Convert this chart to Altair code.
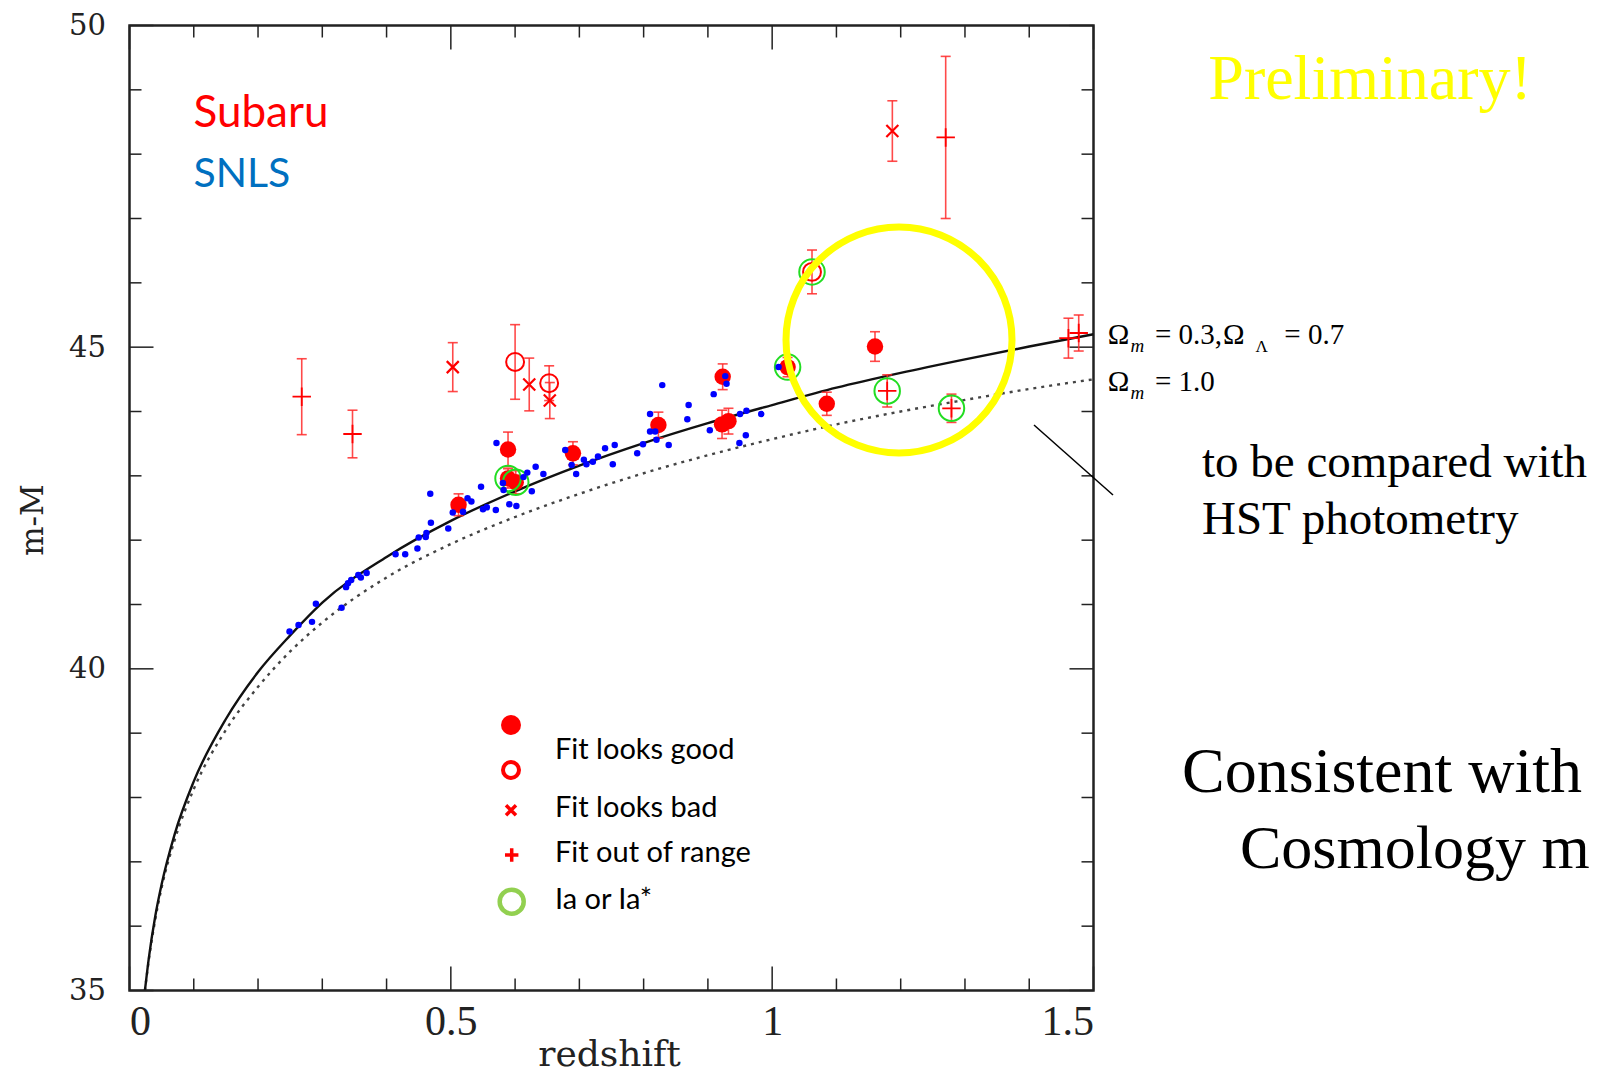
import altair as alt
import pandas as pd

# ---------------- data ----------------
# model curves (distance modulus vs redshift)
curve_z = [0.024, 0.03, 0.04, 0.05, 0.07, 0.1, 0.15, 0.2, 0.25, 0.3, 0.4, 0.5,
           0.6, 0.7, 0.8, 0.9, 1.0, 1.1, 1.2, 1.3, 1.4, 1.5]
mu_lambda = [35.0, 35.5, 36.15, 36.65, 37.42, 38.25, 39.22, 39.95, 40.52, 41.03, 41.74, 42.30,
             42.76, 43.16, 43.51, 43.82, 44.10, 44.37, 44.60, 44.81, 45.01, 45.20]
mu_flat = [35.0, 35.47, 36.1, 36.6, 37.33, 38.13, 39.05, 39.72, 40.27, 40.72, 41.42, 41.94,
           42.36, 42.72, 43.04, 43.32, 43.57, 43.80, 44.00, 44.18, 44.35, 44.50]

# Subaru supernovae
red_z = [0.512, 0.589, 0.589, 0.601, 0.690, 0.823, 0.923, 0.922, 0.932, 1.024, 1.085, 1.160,
         0.600, 0.653, 1.062,
         0.503, 0.622, 0.654, 1.187,
         0.268, 0.347, 1.179, 1.279, 1.270, 1.461, 1.477]
red_mu = [42.55, 43.41, 42.96, 42.90, 43.35, 43.79, 44.54, 43.80, 43.85, 44.69, 44.12, 45.01,
          44.77, 44.44, 46.17,
          44.69, 44.42, 44.17, 48.36,
          44.23, 43.65, 44.32, 44.05, 48.26, 45.14, 45.22]
red_err = [0.17, 0.27, 0.15, 0.18, 0.18, 0.20, 0.20, 0.22, 0.20, 0.15, 0.18, 0.23,
           0.58, 0.27, 0.34,
           0.38, 0.41, 0.28, 0.47,
           0.59, 0.37, 0.25, 0.22, 1.26, 0.31, 0.28]
red_kind = ["filled"] * 12 + ["open"] * 3 + ["bad"] * 4 + ["range"] * 7
red_ia = [0, 0, 1, 1, 0, 0, 0, 0, 0, 1, 0, 0,
          0, 0, 1,
          0, 0, 0, 0,
          0, 0, 1, 1, 0, 0, 0]

# SNLS supernovae
blue_z = [0.249, 0.263, 0.284, 0.290, 0.330, 0.337, 0.340, 0.345, 0.356, 0.360, 0.369, 0.414,
          0.429, 0.448, 0.450, 0.461, 0.462, 0.469, 0.468, 0.496, 0.503, 0.519, 0.526, 0.532,
          0.547, 0.550, 0.556, 0.570, 0.591, 0.602, 0.582, 0.571, 0.581, 0.613, 0.619, 0.626,
          0.632, 0.644, 0.678, 0.688, 0.695, 0.707, 0.711, 0.721, 0.729, 0.740, 0.752, 0.755,
          0.790, 0.799, 0.810, 0.810, 0.818, 0.820, 0.829, 0.839, 0.868, 0.870, 0.903, 0.909,
          0.927, 0.929, 0.949, 0.950, 0.960, 0.959, 0.983, 1.010]
blue_mu = [40.58, 40.68, 40.73, 41.01, 40.95, 41.27, 41.33, 41.38, 41.46, 41.42, 41.49, 41.78,
           41.78, 41.87, 42.04, 42.05, 42.11, 42.27, 42.72, 42.18, 42.43, 42.44, 42.65, 42.60,
           42.83, 42.48, 42.51, 42.47, 42.56, 42.53, 42.78, 43.51, 42.89, 42.98, 43.05, 42.76,
           43.14, 43.03, 43.40, 43.17, 43.03, 43.25, 43.18, 43.22, 43.30, 43.43, 43.18, 43.48,
           43.35, 43.49, 43.96, 43.69, 43.69, 43.56, 44.41, 43.48, 43.88, 44.10, 43.71, 44.27,
           44.55, 44.43, 43.51, 43.96, 44.01, 43.63, 43.96, 44.69]

# axis ticks
x_major = [0, 0.5, 1.0, 1.5]
x_minor = [0.1, 0.2, 0.3, 0.4, 0.6, 0.7, 0.8, 0.9, 1.1, 1.2, 1.3, 1.4]
y_major = [35, 40, 45, 50]
y_minor = [36, 37, 38, 39, 41, 42, 43, 44, 46, 47, 48, 49]

legend_labels = ["Fit looks good", "Fit looks bad", "Fit out of range", "Ia or Ia*"]

# ---------------- layout ----------------
W, H = 964, 965
MAJ, MIN = 24, 12
RED = "#ff0000"
PLUS = "M-1,0L1,0M0,-1L0,1"
CROSS = "M-1,-1L1,1M-1,1L1,-1"
HBAR = "M-1,0L1,0"

xs = alt.Scale(domain=[0, 1.5], nice=False, zero=False)
ys = alt.Scale(domain=[35, 50], nice=False, zero=False)
xaxis = alt.Axis(values=x_major, format="~g", labelFont="Liberation Serif", labelFontSize=42,
                 labelPadding=11, labelColor="#222", ticks=False, tickSize=0, domain=False,
                 grid=False, title="")
yaxis = alt.Axis(values=y_major, labelFont="DejaVu Serif", labelFontSize=29, labelPadding=24,
                 labelColor="#222", ticks=False, tickSize=0, domain=False, grid=False, title="")


def X(f):
    return alt.X(f"{f}:Q", scale=xs, axis=xaxis)


def Y(f):
    return alt.Y(f"{f}:Q", scale=ys, axis=yaxis)


curve_df = pd.DataFrame({"z": curve_z, "lcdm": mu_lambda, "flat": mu_flat})
red_df = pd.DataFrame({"z": red_z, "mu": red_mu, "err": red_err, "kind": red_kind, "ia": red_ia})
red_df["lo"] = red_df["mu"] - red_df["err"]
red_df["hi"] = red_df["mu"] + red_df["err"]
cap_df = pd.DataFrame({"z": list(red_df["z"]) * 2, "c": list(red_df["lo"]) + list(red_df["hi"])})
blue_df = pd.DataFrame({"z": blue_z, "mu": blue_mu})

line_l = alt.Chart(curve_df).mark_line(color="#111", strokeWidth=2.4, interpolate="monotone",
                                       clip=True).encode(x=X("z"), y=Y("lcdm"))
line_f = alt.Chart(curve_df).mark_line(color="#444", strokeWidth=2.4, strokeDash=[3, 5],
                                       interpolate="monotone", clip=True).encode(x=X("z"), y=Y("flat"))

err = alt.Chart(red_df).mark_rule(color="#ff2a2a", strokeWidth=1.6, opacity=0.85).encode(
    x=X("z"), y=Y("lo"), y2="hi")
caps = alt.Chart(cap_df).mark_point(shape=HBAR, size=100, filled=False, color="#ff2a2a",
                                    strokeWidth=1.6, opacity=0.85).encode(x=X("z"), y=Y("c"))

rbase = alt.Chart(red_df)
r_fill = rbase.transform_filter("datum.kind == 'filled'").mark_point(
    shape="circle", filled=True, size=270, color=RED, opacity=1).encode(x=X("z"), y=Y("mu"))
r_open = rbase.transform_filter("datum.kind == 'open'").mark_point(
    shape="circle", filled=False, size=320, strokeWidth=2, color=RED, opacity=1).encode(x=X("z"), y=Y("mu"))
r_bad = rbase.transform_filter("datum.kind == 'bad'").mark_point(
    shape=CROSS, filled=False, size=144, strokeWidth=2.2, color=RED, opacity=1).encode(x=X("z"), y=Y("mu"))
r_range = rbase.transform_filter("datum.kind == 'range'").mark_point(
    shape=PLUS, filled=False, size=340, strokeWidth=1.8, color=RED, opacity=1).encode(x=X("z"), y=Y("mu"))
rings = rbase.transform_filter("datum.ia == 1").mark_point(
    shape="circle", filled=False, size=650, strokeWidth=2, color="#22dd22", opacity=1).encode(x=X("z"), y=Y("mu"))

blue = alt.Chart(blue_df).mark_circle(size=42, color="#0000ff", opacity=1).encode(x=X("z"), y=Y("mu"))


# inward ticks on all four sides
def xticks(vals, length):
    d = pd.DataFrame({"t": vals})
    bot = alt.Chart(d).mark_rule(color="#222", strokeWidth=1.5).encode(
        x=X("t"), y=alt.value(H), y2=alt.value(H - length))
    top = alt.Chart(d).mark_rule(color="#222", strokeWidth=1.5).encode(
        x=X("t"), y=alt.value(0), y2=alt.value(length))
    return [bot, top]


def yticks(vals, length):
    d = pd.DataFrame({"t": vals})
    left = alt.Chart(d).mark_rule(color="#222", strokeWidth=1.5).encode(
        y=Y("t"), x=alt.value(0), x2=alt.value(length))
    right = alt.Chart(d).mark_rule(color="#222", strokeWidth=1.5).encode(
        y=Y("t"), x=alt.value(W), x2=alt.value(W - length))
    return [left, right]


tick_layers = xticks(x_major, MAJ) + xticks(x_minor, MIN) + yticks(y_major, MAJ) + yticks(y_minor, MIN)


def label(txt, x, y, size, font, color="black", align="left", baseline="alphabetic",
          angle=0, style="normal"):
    return alt.Chart(pd.DataFrame({"t": [txt]})).mark_text(
        align=align, baseline=baseline, font=font, fontSize=size, color=color,
        fontStyle=style, angle=angle).encode(x=alt.value(x), y=alt.value(y), text="t:N")


def marker(x, y, shape, size, color, filled, sw=0):
    kw = dict(shape=shape, size=size, color=color, filled=filled, opacity=1)
    if not filled:
        kw["strokeWidth"] = sw
    return alt.Chart(pd.DataFrame({"a": [0]})).mark_point(**kw).encode(
        x=alt.value(x), y=alt.value(y))


SERIF = "Liberation Serif"
SANS = "Lato"

annot = [
    # highlight circle
    marker(769.5, 314.5, "circle", 51076, "#ffff00", False, 7),
    # pointer line
    alt.Chart(pd.DataFrame({"a": [0]})).mark_rule(color="black", strokeWidth=1.5).encode(
        x=alt.value(904.5), y=alt.value(399.5), x2=alt.value(983.5), y2=alt.value(469.5)),
    # axis titles
    label("redshift", 480, 1040, 36, "DejaVu Serif", color="#222", align="center"),
    label("m-M", -95.5, 494.5, 31, "DejaVu Serif", color="#222", align="center",
          baseline="middle", angle=270),
    # data set names
    label("Subaru", 64, 88, 44, SANS, color="#ff0000", baseline="middle"),
    label("SNLS", 64, 149, 41, SANS, color="#0070c0", baseline="middle"),
    # model labels
    label("Ω", 978.2, 318.5, 29, SERIF),
    label("m", 1000.9, 326.5, 19, SERIF, style="italic"),
    label("= 0.3,", 1025.4, 318.5, 29, SERIF),
    label("Ω", 1093.5, 318.5, 29, SERIF),
    label("Λ", 1126, 326.5, 17, SERIF),
    label("= 0.7", 1154.8, 318.5, 29, SERIF),
    label("Ω", 978.2, 365, 29, SERIF),
    label("m", 1000.9, 373, 19, SERIF, style="italic"),
    label("= 1.0", 1025.4, 365, 29, SERIF),
    # slide texts
    label("Preliminary!", 1078.8, 73.5, 64, SERIF, color="#ffff00"),
    label("to be compared with", 1072.5, 451, 47, SERIF),
    label("HST photometry", 1072.5, 508, 47, SERIF),
    label("Consistent with", 1052.5, 766.5, 64, SERIF),
    label("Cosmology m", 1110.5, 842.5, 62, SERIF),
    # legend
    marker(381.5, 699.5, "circle", 400, RED, True),
    marker(381.5, 744.5, "circle", 256, RED, False, 4),
    marker(381.5, 784.8, CROSS, 100, RED, False, 3.5),
    marker(382.2, 829.5, PLUS, 180, RED, False, 3.5),
    marker(382.2, 876.2, "circle", 576, "#92d050", False, 4.5),
    label(legend_labels[0], 425.5, 724.5, 29, SANS, baseline="middle"),
    label(legend_labels[1], 425.5, 782.8, 29, SANS, baseline="middle"),
    label(legend_labels[2], 425.5, 827.8, 29, SANS, baseline="middle"),
    label(legend_labels[3], 425.5, 874.5, 29, SANS, baseline="middle"),
]

chart = alt.layer(
    line_f, line_l, *tick_layers, err, caps, r_fill, r_open, r_bad, r_range, rings, blue, *annot
).properties(
    width=W, height=H,
    autosize=alt.AutoSizeParams(type="none"),
    padding={"left": 121.5, "top": 17.5, "right": 496.5, "bottom": 85.5},
    background="white",
).configure_view(
    stroke="#222", strokeWidth=2.5
)

chart.save("out.html", embed_options={"renderer": "svg", "actions": False})
